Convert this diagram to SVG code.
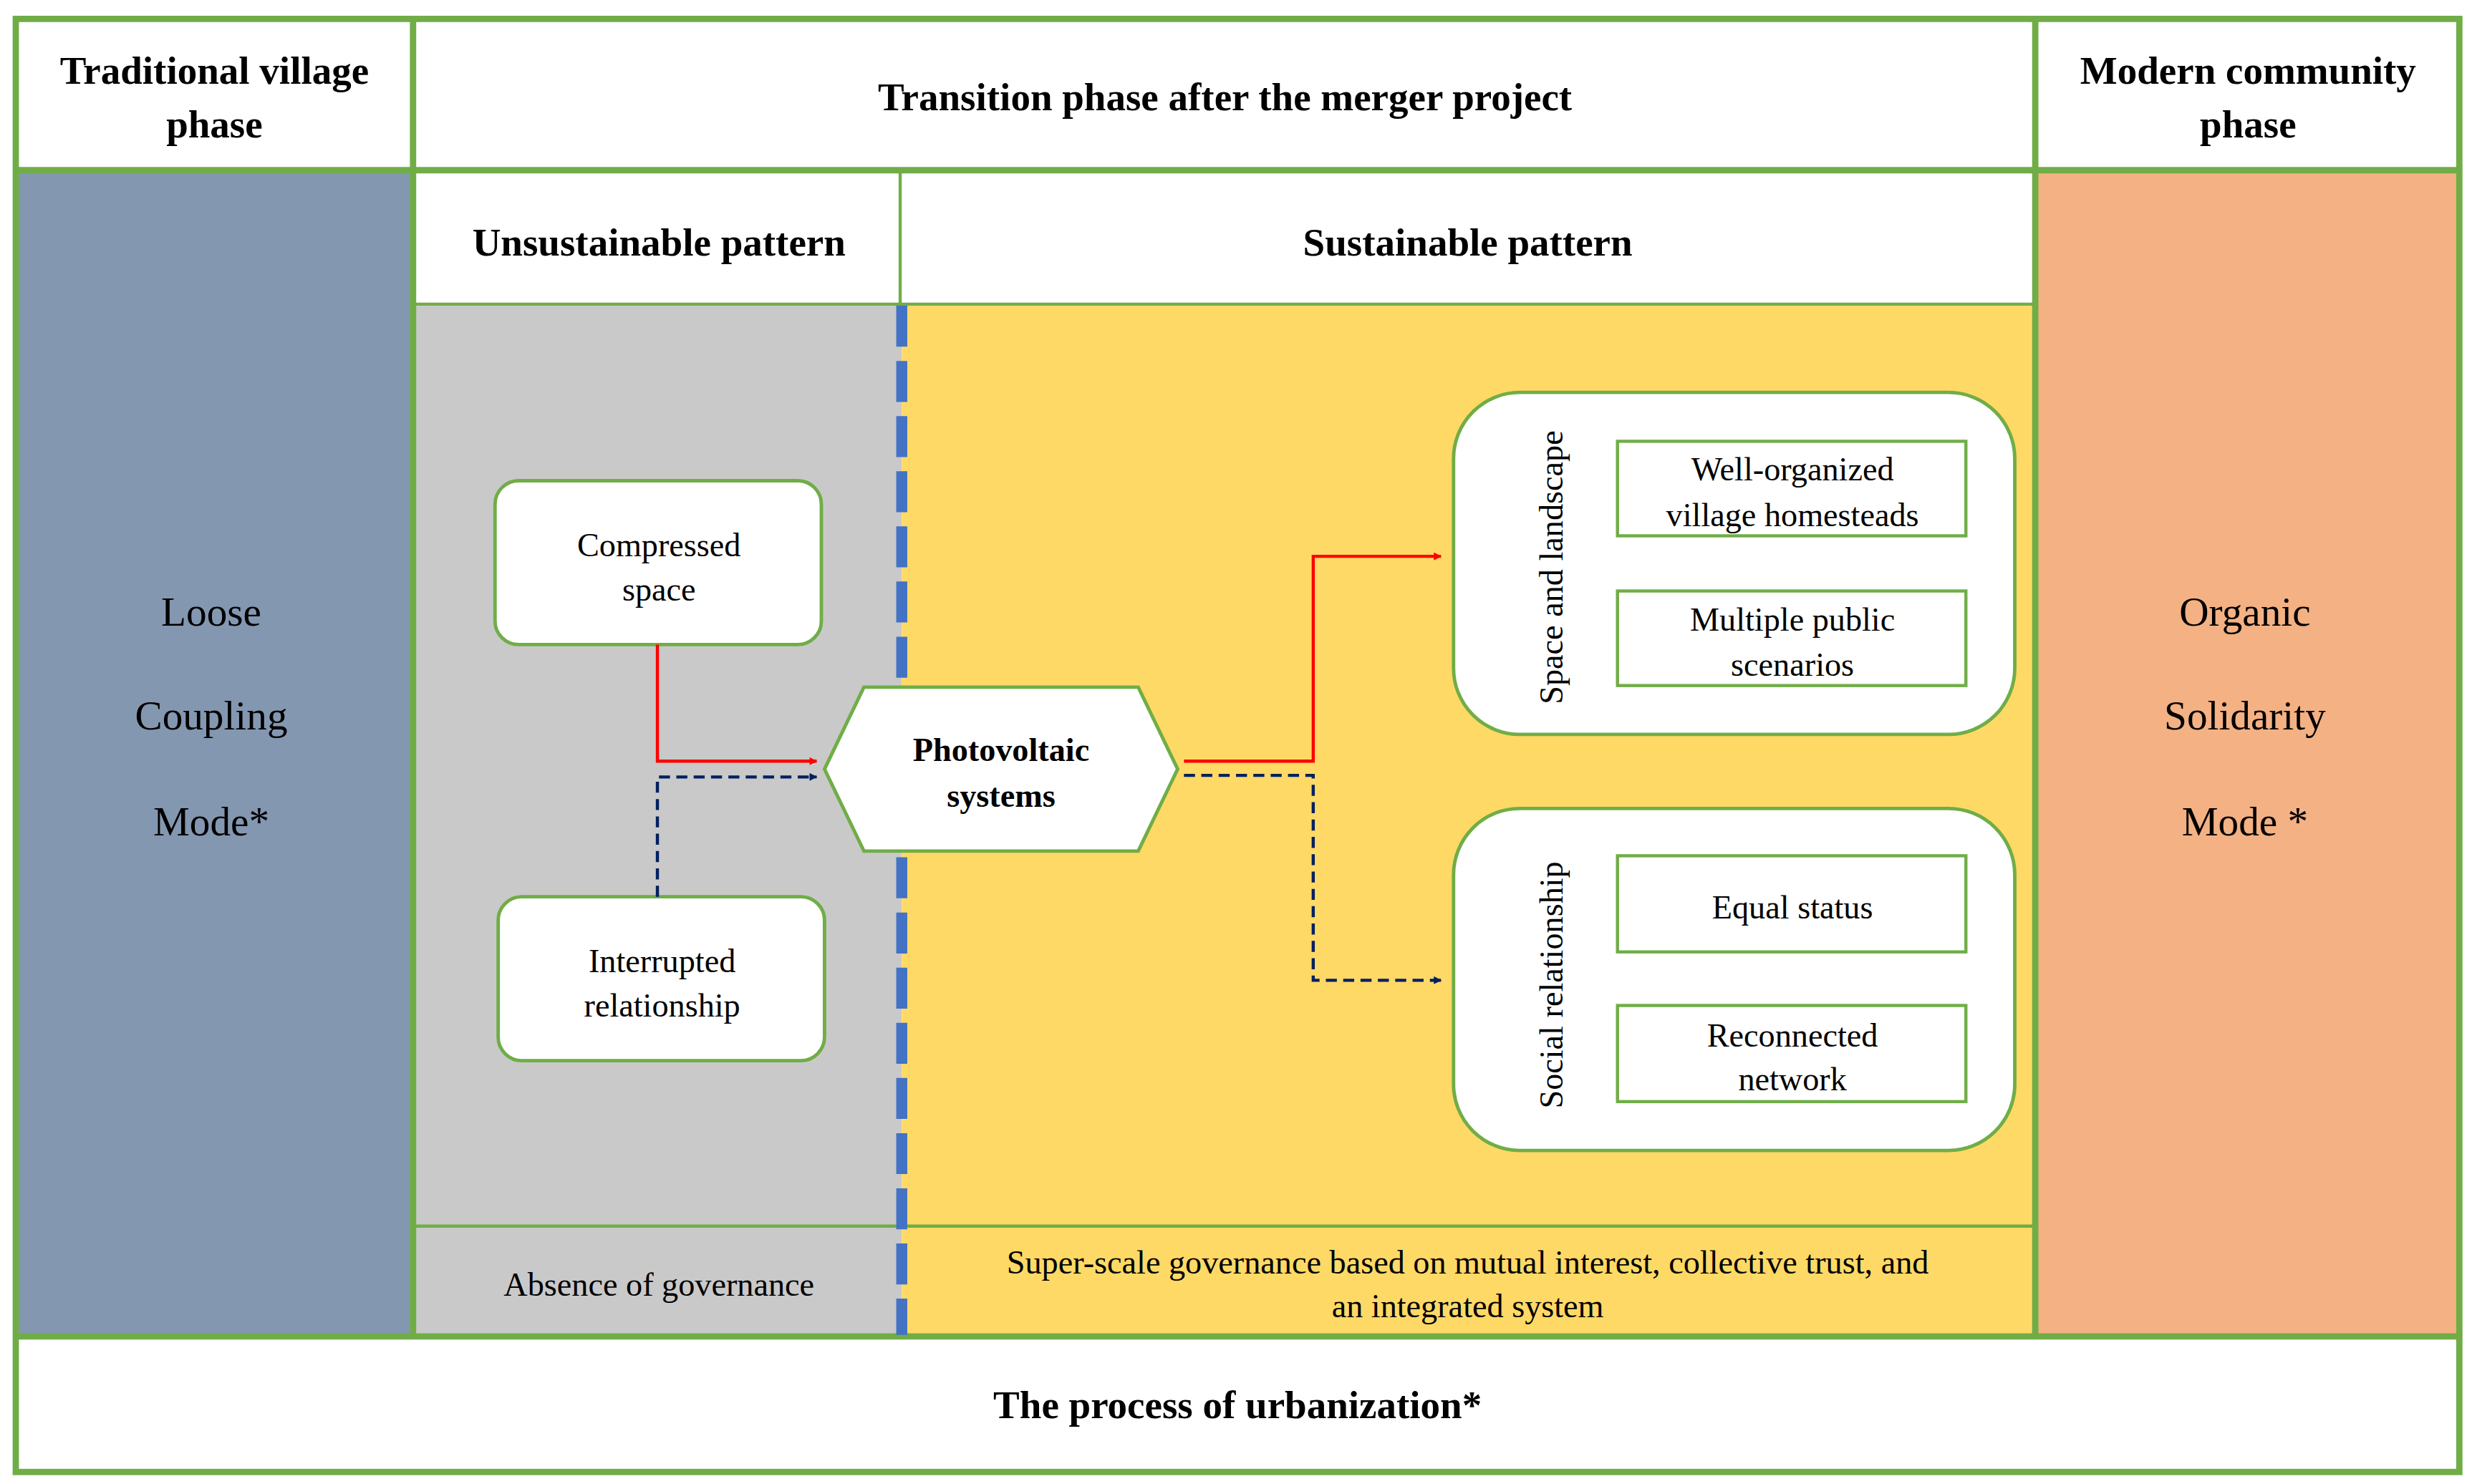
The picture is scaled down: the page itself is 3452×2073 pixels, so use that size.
<svg xmlns="http://www.w3.org/2000/svg" width="3452" height="2073" viewBox="0 0 3452 2073">
<defs>
<style>
text{font-family:"Liberation Serif","Times New Roman",serif;fill:#000;text-anchor:middle}
.h{font-weight:bold;font-size:25px}
.n{font-size:21px}
.big{font-size:26px}
.g{stroke:#70AD47;fill:none}
.node{fill:#fff;stroke:#70AD47;stroke-width:2.2}
.inner{fill:#fff;stroke:#70AD47;stroke-width:2}
</style>
<marker id="ar" viewBox="0 0 10 10" refX="9" refY="5" markerWidth="5" markerHeight="5" orient="auto" markerUnits="userSpaceOnUse"><path d="M0,0L10,5L0,10z" fill="#FF0000"/></marker>
<marker id="an" viewBox="0 0 10 10" refX="9" refY="5" markerWidth="5" markerHeight="5" orient="auto" markerUnits="userSpaceOnUse"><path d="M0,0L10,5L0,10z" fill="#002060"/></marker>
</defs>
<rect width="3452" height="2073" fill="#fff"/>
<g transform="scale(2.2015)">
<g id="backgrounds">
<rect x="10" y="109" width="252" height="738" fill="#8497B0"/>
<rect x="1292" y="109" width="268" height="738" fill="#F4B183"/>
<rect x="263" y="194" width="309" height="653" fill="#C9C9C9"/>
<rect x="572" y="194" width="718" height="653" fill="#FFD966"/>
</g>
<g id="grid">
<rect x="10" y="12" width="1550" height="922" class="g" stroke-width="4"/>
<line x1="10" y1="108" x2="1560" y2="108" class="g" stroke-width="4"/>
<line x1="10" y1="848" x2="1560" y2="848" class="g" stroke-width="4"/>
<line x1="262" y1="12" x2="262" y2="848" class="g" stroke-width="4"/>
<line x1="1291" y1="12" x2="1291" y2="848" class="g" stroke-width="4"/>
<line x1="263" y1="193" x2="1290" y2="193" class="g" stroke-width="2"/>
<line x1="571" y1="109" x2="571" y2="193" class="g" stroke-width="2"/>
<line x1="263" y1="778" x2="1290" y2="778" class="g" stroke-width="2"/>
<line x1="572" y1="194" x2="572" y2="847" stroke="#4472C4" stroke-width="7" stroke-dasharray="26,9"/>
</g>
<g id="headers">
<text class="h" x="136" y="53">Traditional village</text>
<text class="h" x="136" y="87">phase</text>
<text class="h" x="777" y="70">Transition phase after the merger project</text>
<text class="h" x="1426" y="53">Modern community</text>
<text class="h" x="1426" y="87">phase</text>
<text class="h" x="418" y="162">Unsustainable pattern</text>
<text class="h" x="931" y="162">Sustainable pattern</text>
<text class="h" x="785" y="900">The process of urbanization*</text>
</g>
<g id="side-left">
<text class="big" x="134" y="397">Loose</text>
<text class="big" x="134" y="463">Coupling</text>
<text class="big" x="134" y="530">Mode*</text>
</g>
<g id="side-right">
<text class="big" x="1424" y="397">Organic</text>
<text class="big" x="1424" y="463">Solidarity</text>
<text class="big" x="1424" y="530">Mode *</text>
</g>
<g id="governance">
<text class="n" x="418" y="822">Absence of governance</text>
<text class="n" x="931" y="808">Super-scale governance based on mutual interest, collective trust, and</text>
<text class="n" x="931" y="836">an integrated system</text>
</g>
<g id="compressed">
<rect class="node" x="314" y="305" width="207" height="104" rx="15"/>
<text class="n" x="418" y="353">Compressed</text>
<text class="n" x="418" y="381">space</text>
</g>
<g id="interrupted">
<rect class="node" x="316" y="569" width="207" height="104" rx="15"/>
<text class="n" x="420" y="617">Interrupted</text>
<text class="n" x="420" y="645">relationship</text>
</g>
<g id="photovoltaic">
<polygon class="node" points="523,488 548,436 722,436 747,488 722,540 548,540"/>
<text class="n" x="635" y="483" font-weight="bold">Photovoltaic</text>
<text class="n" x="635" y="512" font-weight="bold">systems</text>
</g>
<g id="space-landscape">
<rect class="node" x="922" y="249" width="356" height="217" rx="42"/>
<text class="n" transform="translate(991,360) rotate(-90)">Space and landscape</text>
<rect class="inner" x="1026" y="280" width="221" height="60"/>
<text class="n" x="1137" y="305">Well-organized</text>
<text class="n" x="1137" y="334">village homesteads</text>
<rect class="inner" x="1026" y="375" width="221" height="60"/>
<text class="n" x="1137" y="400">Multiple public</text>
<text class="n" x="1137" y="429">scenarios</text>
</g>
<g id="social">
<rect class="node" x="922" y="513" width="356" height="217" rx="42"/>
<text class="n" transform="translate(991,625) rotate(-90)">Social relationship</text>
<rect class="inner" x="1026" y="543" width="221" height="61"/>
<text class="n" x="1137" y="583">Equal status</text>
<rect class="inner" x="1026" y="638" width="221" height="61"/>
<text class="n" x="1137" y="664">Reconnected</text>
<text class="n" x="1137" y="692">network</text>
</g>
<g id="connectors" fill="none" stroke-width="2">
<polyline points="417,409 417,483 518,483" stroke="#FF0000" marker-end="url(#ar)"/>
<polyline points="417,569 417,493 518,493" stroke="#002060" stroke-dasharray="7,4" marker-end="url(#an)"/>
<polyline points="751,483 833,483 833,353 914,353" stroke="#FF0000" marker-end="url(#ar)"/>
<polyline points="751,492 833,492 833,622 914,622" stroke="#002060" stroke-dasharray="7,4" marker-end="url(#an)"/>
</g>
</g>
</svg>
